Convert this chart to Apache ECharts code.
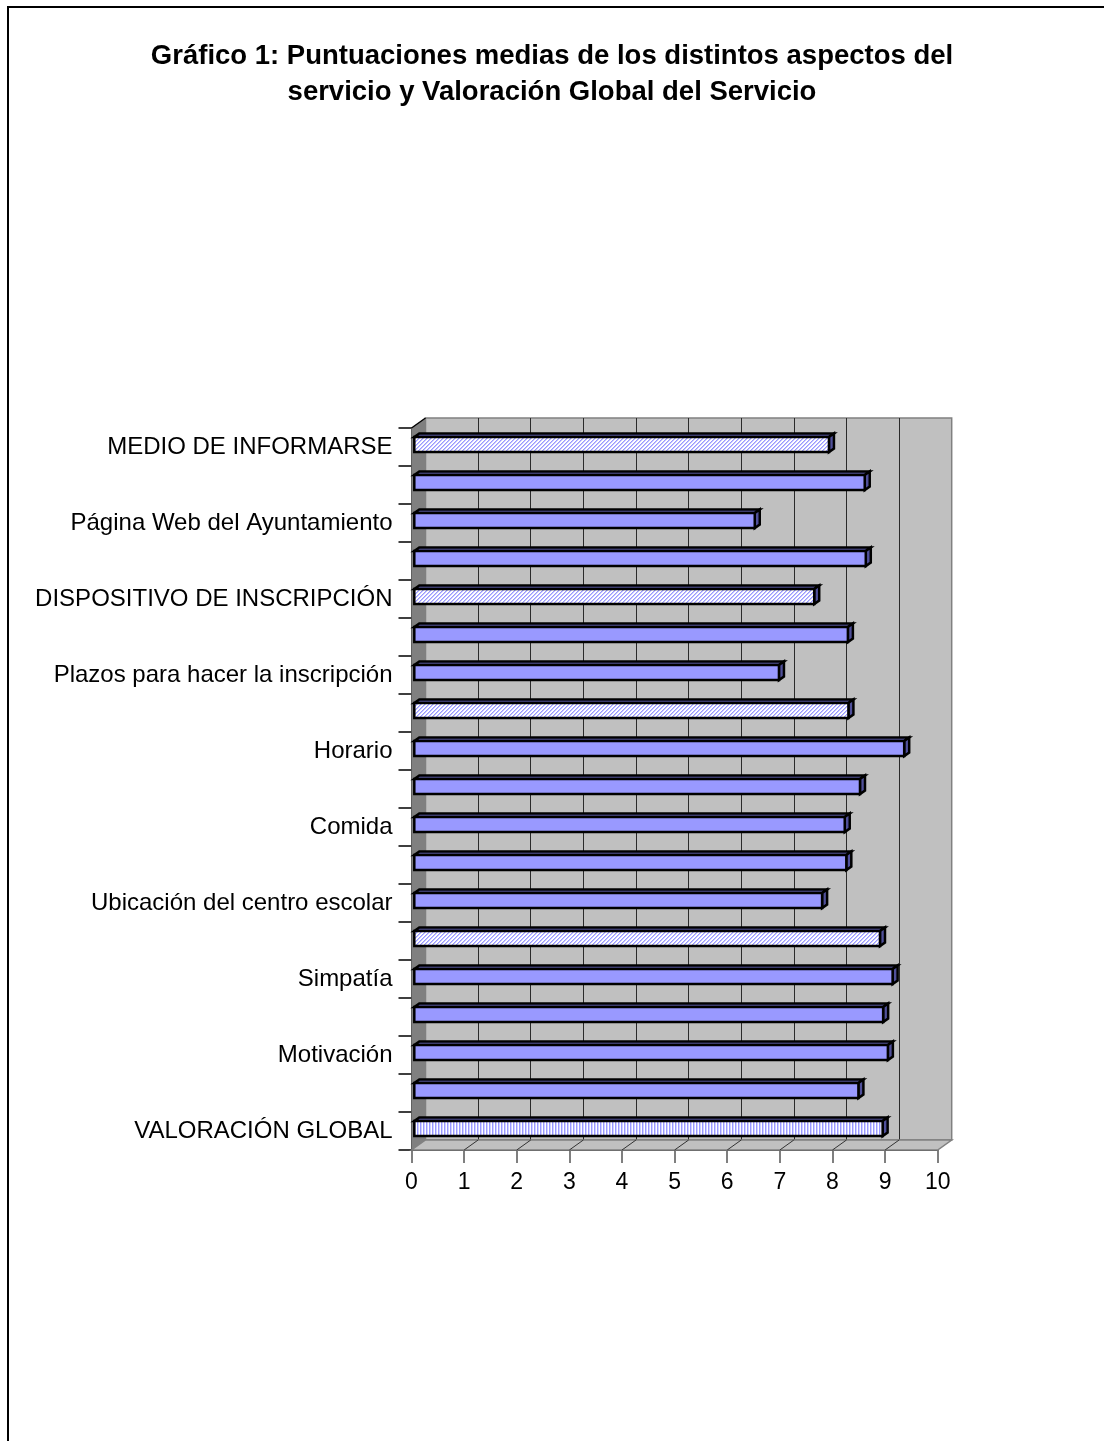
<!DOCTYPE html>
<html>
<head>
<meta charset="utf-8">
<script src="https://cdn.jsdelivr.net/npm/echarts@6/dist/echarts.min.js"></script>
<style>
  html, body { margin: 0; padding: 0; background: #fff; }
  #chart { width: 1104px; height: 1441px; }
</style>
</head>
<body>
<div id="chart"></div>
<script>
// ---- Data -----------------------------------------------------------------
// Row names, top to bottom (every other row carries no printed name)
const categories = [
  'MEDIO DE INFORMARSE', '',
  'Página Web del Ayuntamiento', '',
  'DISPOSITIVO DE INSCRIPCIÓN', '',
  'Plazos para hacer la inscripción', '',
  'Horario', '',
  'Comida', '',
  'Ubicación del centro escolar', '',
  'Simpatía', '',
  'Motivación', '',
  'VALORACIÓN GLOBAL'
];
// Section averages (hatched bars)
const sectionScores = [7.88, null, null, null, 7.60, null, null, 8.25, null, null,
                       null, null, null, 8.85, null, null, null, null, null];
// Individual aspects (solid bars)
const aspectScores  = [null, 8.56, 6.47, 8.58, null, 8.24, 6.93, null, 9.31, 8.47,
                       8.18, 8.21, 7.75, null, 9.09, 8.91, 9.00, 8.44, null];
// Overall rating (vertically striped bar)
const globalScores  = [null, null, null, null, null, null, null, null, null, null,
                       null, null, null, null, null, null, null, null, 8.90];
// Score axis ticks
const scoreTicks = [0, 1, 2, 3, 4, 5, 6, 7, 8, 9, 10];

// ---- Layout & style --------------------------------------------------------
const FONT = 'Arial, "Liberation Sans", sans-serif';
const PLOT = { left: 411.5, top: 428, width: 526.2, height: 722 };
const DEPTH = { x: 14, y: 10 };          // 3-D offset of the back wall
const BAR_DEPTH = { x: 5, y: 3.5 };      // 3-D thickness of each bar
const BAR_COLOR = '#9999ff';

function tile(kind) {
  const c = document.createElement('canvas');
  const g = c.getContext('2d');
  if (kind === 'diag') {
    c.width = 4; c.height = 4;
    g.fillStyle = '#ffffff'; g.fillRect(0, 0, 4, 4);
    for (let y = 0; y < 4; y++)
      for (let x = 0; x < 4; x++) {
        const k = (x + y) % 4;
        if (k === 0) { g.fillStyle = BAR_COLOR; g.fillRect(x, y, 1, 1); }
        else if (k === 1) { g.fillStyle = '#c4c4ff'; g.fillRect(x, y, 1, 1); }
      }
  } else {
    c.width = 3; c.height = 1;
    g.fillStyle = '#ffffff'; g.fillRect(0, 0, 3, 1);
    g.fillStyle = BAR_COLOR; g.fillRect(0, 0, 1, 1);
    g.fillStyle = '#d0d0ff'; g.fillRect(1, 0, 1, 1);
  }
  return { image: c, repeat: 'repeat' };
}

const toPoints = arr => arr.map((v, i) => v == null ? null : [v, i]).filter(Boolean);

// Left wall, floor and floor depth lines of the 3-D box
function renderFrame(params, api) {
  const cs = params.coordSys;
  const x0 = cs.x, y0 = cs.y, x1 = cs.x + cs.width, y1 = cs.y + cs.height;
  const dx = DEPTH.x, dy = DEPTH.y;
  const children = [
    { type: 'polygon', shape: { points: [[x0, y0], [x0 + dx, y0 - dy], [x0 + dx, y1 - dy], [x0, y1]] },
      style: { fill: '#808080' } },
    { type: 'line', shape: { x1: x0, y1: y0, x2: x0 + dx, y2: y0 - dy },
      style: { stroke: '#000', lineWidth: 1.5 } },
    { type: 'polygon', shape: { points: [[x0, y1], [x0 + dx, y1 - dy], [x1 + dx, y1 - dy], [x1, y1]] },
      style: { fill: '#c0c0c0', stroke: '#808080', lineWidth: 1.5 } }
  ];
  scoreTicks.slice(1, -1).forEach(t => {
    const x = api.coord([t, 0])[0];
    children.push({ type: 'line', shape: { x1: x, y1: y1, x2: x + dx, y2: y1 - dy },
      style: { stroke: '#333', lineWidth: 1 } });
  });
  return { type: 'group', children };
}

// 3-D bar: top face, right side face and front face
function barRenderer(fill) {
  return function (params, api) {
    const v = api.value(0), i = api.value(1);
    const a = api.coord([0, i]), b = api.coord([v, i]);
    const band = api.size([0, 1])[1];
    const h = band * 0.4;
    const xa = a[0] + DEPTH.x * 0.2, xb = b[0] + DEPTH.x * 0.2;
    const yt = a[1] - DEPTH.y * 0.25 - h / 2;
    const bx = BAR_DEPTH.x, by = BAR_DEPTH.y;
    const edge = { stroke: '#000', lineWidth: 2.5, lineJoin: 'miter' };
    return {
      type: 'group',
      children: [
        { type: 'polygon', shape: { points: [[xa, yt], [xa + bx, yt - by], [xb + bx, yt - by], [xb, yt]] },
          style: Object.assign({ fill: '#6b6bc4' }, edge) },
        { type: 'polygon', shape: { points: [[xb, yt], [xb + bx, yt - by], [xb + bx, yt + h - by], [xb, yt + h]] },
          style: Object.assign({ fill: '#50509a' }, edge) },
        { type: 'rect', shape: { x: xa, y: yt, width: xb - xa, height: h },
          style: Object.assign({ fill: fill }, edge) }
      ]
    };
  };
}

const chart = echarts.init(document.getElementById('chart'), null, { renderer: 'canvas' });

const option = {
  animation: false,
  backgroundColor: '#ffffff',
  title: {
    text: 'Gráfico 1: Puntuaciones medias de los distintos aspectos del\nservicio y Valoración Global del Servicio',
    left: 'center',
    top: 38,
    padding: 0,
    textStyle: { fontFamily: FONT, fontSize: 27.5, fontWeight: 'bold', color: '#000', lineHeight: 36.5 }
  },
  graphic: [
    { type: 'line', shape: { x1: 7, y1: 7, x2: 1104, y2: 7 }, style: { stroke: '#000', lineWidth: 2 } },
    { type: 'line', shape: { x1: 8, y1: 7, x2: 8, y2: 1441 }, style: { stroke: '#000', lineWidth: 2 } }
  ],
  grid: [
    { left: PLOT.left, top: PLOT.top, width: PLOT.width, height: PLOT.height, containLabel: false },
    { left: PLOT.left + DEPTH.x, top: PLOT.top - DEPTH.y, width: PLOT.width, height: PLOT.height,
      show: true, backgroundColor: '#c0c0c0', borderColor: '#808080', borderWidth: 1.5, z: 0 }
  ],
  xAxis: [
    {
      gridIndex: 0, type: 'value',
      min: scoreTicks[0], max: scoreTicks[scoreTicks.length - 1], interval: 1,
      axisLine: { show: true, lineStyle: { color: '#000', width: 1.5 } },
      axisTick: { show: true, length: 13, lineStyle: { color: '#555', width: 1.5 } },
      axisLabel: { fontFamily: FONT, fontSize: 23, color: '#000', margin: 21 },
      splitLine: { show: false }
    },
    {
      gridIndex: 1, type: 'value',
      min: scoreTicks[0], max: scoreTicks[scoreTicks.length - 1], interval: 1,
      axisLine: { show: false }, axisTick: { show: false }, axisLabel: { show: false },
      splitLine: { show: true, showMinLine: false, showMaxLine: false,
                   lineStyle: { color: '#2a2a2a', width: 1 } }
    }
  ],
  yAxis: [
    {
      gridIndex: 0, type: 'category', data: categories, inverse: true,
      axisLine: { show: true, lineStyle: { color: '#000', width: 1.5 } },
      axisTick: { show: true, interval: 0, length: 13, lineStyle: { color: '#000', width: 1.5 } },
      axisLabel: { interval: 0, fontFamily: FONT, fontSize: 24, color: '#000', margin: 19 },
      splitLine: { show: false }
    },
    { gridIndex: 1, type: 'category', data: categories, inverse: true, show: false }
  ],
  series: [
    { type: 'custom', name: 'marco', xAxisIndex: 0, yAxisIndex: 0, silent: true, z: 1,
      data: [[0, 0]], encode: { x: 0, y: 1 }, renderItem: renderFrame },
    { type: 'custom', name: 'Apartados', xAxisIndex: 0, yAxisIndex: 0, z: 3,
      data: toPoints(sectionScores), encode: { x: 0, y: 1 }, renderItem: barRenderer(tile('diag')) },
    { type: 'custom', name: 'Aspectos', xAxisIndex: 0, yAxisIndex: 0, z: 3,
      data: toPoints(aspectScores), encode: { x: 0, y: 1 }, renderItem: barRenderer(BAR_COLOR) },
    { type: 'custom', name: 'Valoración global', xAxisIndex: 0, yAxisIndex: 0, z: 3,
      data: toPoints(globalScores), encode: { x: 0, y: 1 }, renderItem: barRenderer(tile('vert')) }
  ]
};

chart.setOption(option);
</script>
</body>
</html>
